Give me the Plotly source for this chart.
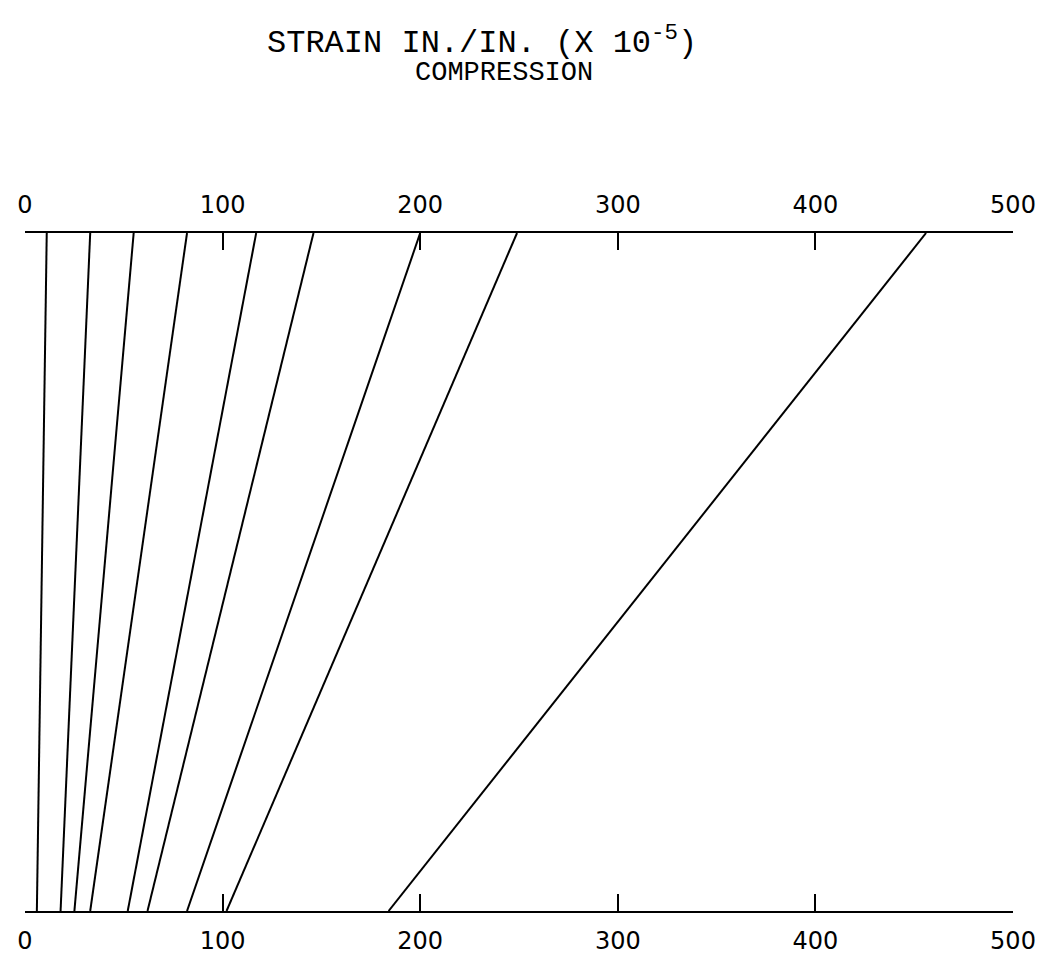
import plotly.graph_objects as go

# Strain (x 10^-5 in./in., compression) read at the top and bottom gauge lines
strain_top = [11, 33, 55, 82, 117, 146, 200, 249, 456]
strain_bottom = [6, 18, 25, 33, 52, 62, 82, 102, 184]
level_top = 1.0
level_bottom = 0.0
tick_vals = [0, 100, 200, 300, 400, 500]
tick_text = ["0", "100", "200", "300", "400", "500"]

fig = go.Figure()
for t, b in zip(strain_top, strain_bottom):
    fig.add_trace(go.Scatter(
        x=[t, b], y=[level_top, level_bottom], mode="lines",
        line=dict(color="black", width=2), showlegend=False, hoverinfo="skip"))

# invisible trace to activate top axis
fig.add_trace(go.Scatter(x=[0, 500], y=[level_top, level_top], xaxis="x2",
                         mode="lines", line=dict(width=0), showlegend=False,
                         hoverinfo="skip"))

tick_font = dict(family="DejaVu Sans", size=24, color="black")
axis_common = dict(
    range=[0, 500], tickvals=tick_vals, ticktext=tick_text,
    ticks="inside", ticklen=17, tickwidth=2, tickcolor="black",
    showline=True, linecolor="black", linewidth=2, automargin=False,
    showgrid=False, zeroline=False, tickfont=tick_font,
)
fig.update_layout(
    width=1042, height=960,
    margin=dict(l=25, r=29, t=233, b=49, autoexpand=False),
    paper_bgcolor="white", plot_bgcolor="white",
    xaxis=dict(**axis_common, side="bottom", ticklabelstandoff=7),
    xaxis2=dict(**axis_common, side="top", overlaying="x", anchor="y",
                ticklabelstandoff=8),
    yaxis=dict(range=[0, 1], visible=False, showgrid=False, zeroline=False),
    annotations=[
        dict(text="STRAIN IN./IN. (X 10<sup>-5</sup>)", xref="paper", yref="paper",
             x=(265 - 25) / 988, y=1.283, xanchor="left", yanchor="middle",
             showarrow=False,
             font=dict(family="Liberation Mono", size=32, color="black")),
        dict(text="COMPRESSION", xref="paper", yref="paper",
             x=(413 - 25) / 988, y=1.236, xanchor="left", yanchor="middle",
             showarrow=False,
             font=dict(family="Liberation Mono", size=27, color="black")),
    ],
)

fig.write_html("out.html")
